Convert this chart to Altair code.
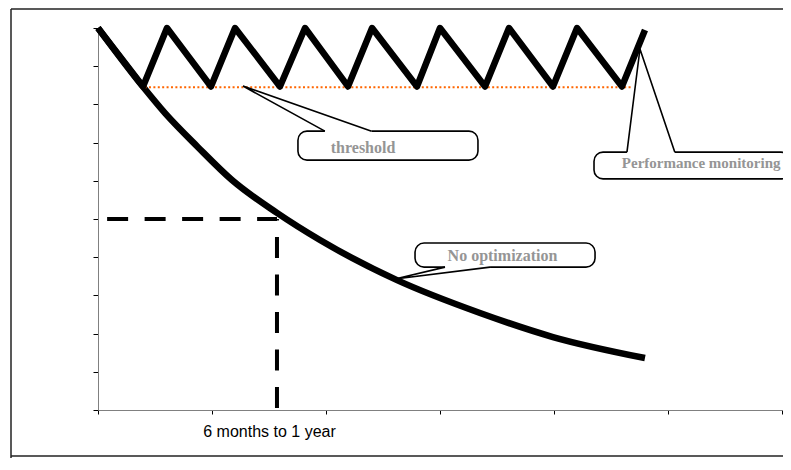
import altair as alt
import pandas as pd

# ---------------- data ----------------
decay_x = [0, 0.395, 0.588, 0.877, 1.175, 1.57, 1.947, 2.623, 3.351, 3.991, 4.798]
decay_y = [10, 8.46, 7.77, 6.88, 6.02, 5.16, 4.45, 3.40, 2.54, 1.91, 1.36]

zz_x = [0, 0.395, 0.605, 0.991, 1.202, 1.596, 1.816, 2.193, 2.404, 2.798,
        3.0, 3.395, 3.605, 3.991, 4.202, 4.596, 4.798]
zz_y = [10, 8.47, 10, 8.47, 10, 8.47, 10, 8.47, 10, 8.47,
        10, 8.47, 10, 8.47, 10, 8.47, 9.95]

thr_x = [0.37, 4.68]
thr_y = [8.45, 8.45]

hdash_x = [0.08, 1.57]
hdash_y = [5.0]
vdash_x = [1.57]
vdash_y = [0.05, 5.0]

box_names = ["threshold", "Performance monitoring", "No optimization"]
box_x1 = [1.754, 4.351, 2.781]
box_x2 = [3.333, 6.07, 4.36]
box_top = [7.30, 6.75, 4.37]
box_bot = [6.54, 6.05, 3.74]
text_x = [2.325, 4.595, 3.548]
text_y = [6.86, 6.47, 4.03]
text_align = ["center", "left", "center"]

tail_base1_x = [1.99, 4.64, 3.044]
tail_base2_x = [2.40, 5.06, 3.439]
tail_base_y = [7.30, 6.75, 3.74]
tail_apex_x = [1.272, 4.754, 2.605]
tail_apex_y = [8.48, 9.45, 3.43]

x_ticks = [0, 1, 2, 3, 4, 5, 6]
x_label_pos = 1.5
y_ticks = [0, 1, 2, 3, 4, 5, 6, 7, 8, 9, 10]
x_label = "6 months to 1 year"

# ---------------- tables ----------------
decay_df = pd.DataFrame({"x": decay_x, "y": decay_y, "o": range(len(decay_x))})
zz_df = pd.DataFrame({"x": zz_x, "y": zz_y, "o": range(len(zz_x))})
thr_df = pd.DataFrame({"x": thr_x, "y": thr_y})
hdash_df = pd.DataFrame({"x": [hdash_x[0]], "x2": [hdash_x[1]], "y": hdash_y})
vdash_df = pd.DataFrame({"x": vdash_x, "y": [vdash_y[0]], "y2": [vdash_y[1]]})
box_df = pd.DataFrame({"name": box_names, "x1": box_x1, "x2": box_x2,
                       "top": box_top, "bot": box_bot,
                       "tx": text_x, "ty": text_y, "align": text_align,
                       "b1": tail_base1_x, "b2": tail_base2_x, "by": tail_base_y})
tail_rows = []
for i, n in enumerate(box_names):
    tail_rows.append({"name": n, "o": 0, "x": tail_base1_x[i], "y": tail_base_y[i]})
    tail_rows.append({"name": n, "o": 1, "x": tail_apex_x[i], "y": tail_apex_y[i]})
    tail_rows.append({"name": n, "o": 2, "x": tail_base2_x[i], "y": tail_base_y[i]})
tail_df = pd.DataFrame(tail_rows)

xs = alt.Scale(domain=[0, 6], nice=False, zero=False)
ys = alt.Scale(domain=[0, 10], nice=False, zero=False)

x_axis = alt.Axis(values=x_ticks + [x_label_pos], title=None, grid=False,
                  domainColor="#808080", tickColor="#000000", tickSize=4,
                  tickOpacity={"expr": f"datum.value == {x_label_pos} ? 0 : 1"},
                  labelPadding=9,
                  labelExpr=f"datum.value == {x_label_pos} ? '{x_label}' : ''",
                  labelFont="Liberation Sans", labelFontSize=16, labelColor="#000000",
                  labelOverlap=False, labelFlush=False)
y_axis = alt.Axis(values=y_ticks, title=None, grid=False, labels=False,
                  domainColor="#808080", tickColor="#000000", tickSize=5)


def X(field):
    return alt.X(field, type="quantitative", scale=xs, axis=x_axis)


def Y(field):
    return alt.Y(field, type="quantitative", scale=ys, axis=y_axis)


one = pd.DataFrame({"a": [0]})

# outer frame (top, left and bottom edges; right edge lies beyond the page)
frame_h = alt.Chart(one).mark_rule(color="#222222", strokeWidth=1.5).encode(
    x=alt.value(-87), x2=alt.value(693), y=alt.value(-19))
frame_b = alt.Chart(one).mark_rule(color="#222222", strokeWidth=1.5).encode(
    x=alt.value(-87), x2=alt.value(693), y=alt.value(428))
frame_l = alt.Chart(one).mark_rule(color="#222222", strokeWidth=1.5).encode(
    x=alt.value(-87), y=alt.value(-19), y2=alt.value(440))

decay = alt.Chart(decay_df).mark_line(color="black", strokeWidth=6.5,
                                      interpolate="monotone").encode(
    x=X("x"), y=Y("y"), order="o:Q")

thr = alt.Chart(thr_df).mark_line(color="#FF6600", strokeWidth=2,
                                  strokeDash=[2, 2.4]).encode(
    x=X("x"), y=Y("y"))

zz = alt.Chart(zz_df).mark_line(color="black", strokeWidth=6.5,
                                strokeJoin="round", strokeCap="butt").encode(
    x=X("x"), y=Y("y"), order="o:Q")

hdash = alt.Chart(hdash_df).mark_rule(color="black", strokeWidth=4,
                                      strokeDash=[21, 16.5]).encode(
    x=X("x"), x2="x2:Q", y=Y("y"))
vdash = alt.Chart(vdash_df).mark_rule(color="black", strokeWidth=4,
                                      strokeDash=[21, 16.5]).encode(
    x=X("x"), y=Y("y"), y2="y2:Q")

boxes = alt.Chart(box_df).mark_rect(fill="white", stroke="black", strokeWidth=1.6,
                                    cornerRadius=9).encode(
    x=X("x1"), x2="x2:Q", y=Y("top"), y2="bot:Q")

gaps = alt.Chart(box_df).mark_rule(color="white", strokeWidth=3.5).encode(
    x=X("b1"), x2="b2:Q", y=Y("by"))

tails = alt.Chart(tail_df).mark_line(color="black", strokeWidth=1.6,
                                     strokeJoin="miter").encode(
    x=X("x"), y=Y("y"), detail="name:N", order="o:Q")

txt_c = alt.Chart(box_df).transform_filter("datum.align == 'center'").mark_text(
    font="Liberation Serif", fontWeight="bold", fontSize=16, color="#959595",
    align="center", baseline="middle").encode(
    x=X("tx"), y=Y("ty"), text="name:N")
txt_l = alt.Chart(box_df).transform_filter("datum.align == 'left'").mark_text(
    font="Liberation Serif", fontWeight="bold", fontSize=15, color="#959595",
    align="left", baseline="middle").encode(
    x=X("tx"), y=Y("ty"), text="name:N")

chart = alt.layer(
    frame_h, frame_b, frame_l, decay, thr, zz, hdash, vdash, boxes, gaps, tails,
    txt_c, txt_l
).properties(
    width=684, height=382,
    autosize=alt.AutoSizeParams(type="none"),
    padding={"left": 90, "top": 20, "right": 1, "bottom": 48},
    background="white",
).configure_view(stroke=None)

chart.save("out.html", embed_options={"renderer": "svg", "actions": False})
